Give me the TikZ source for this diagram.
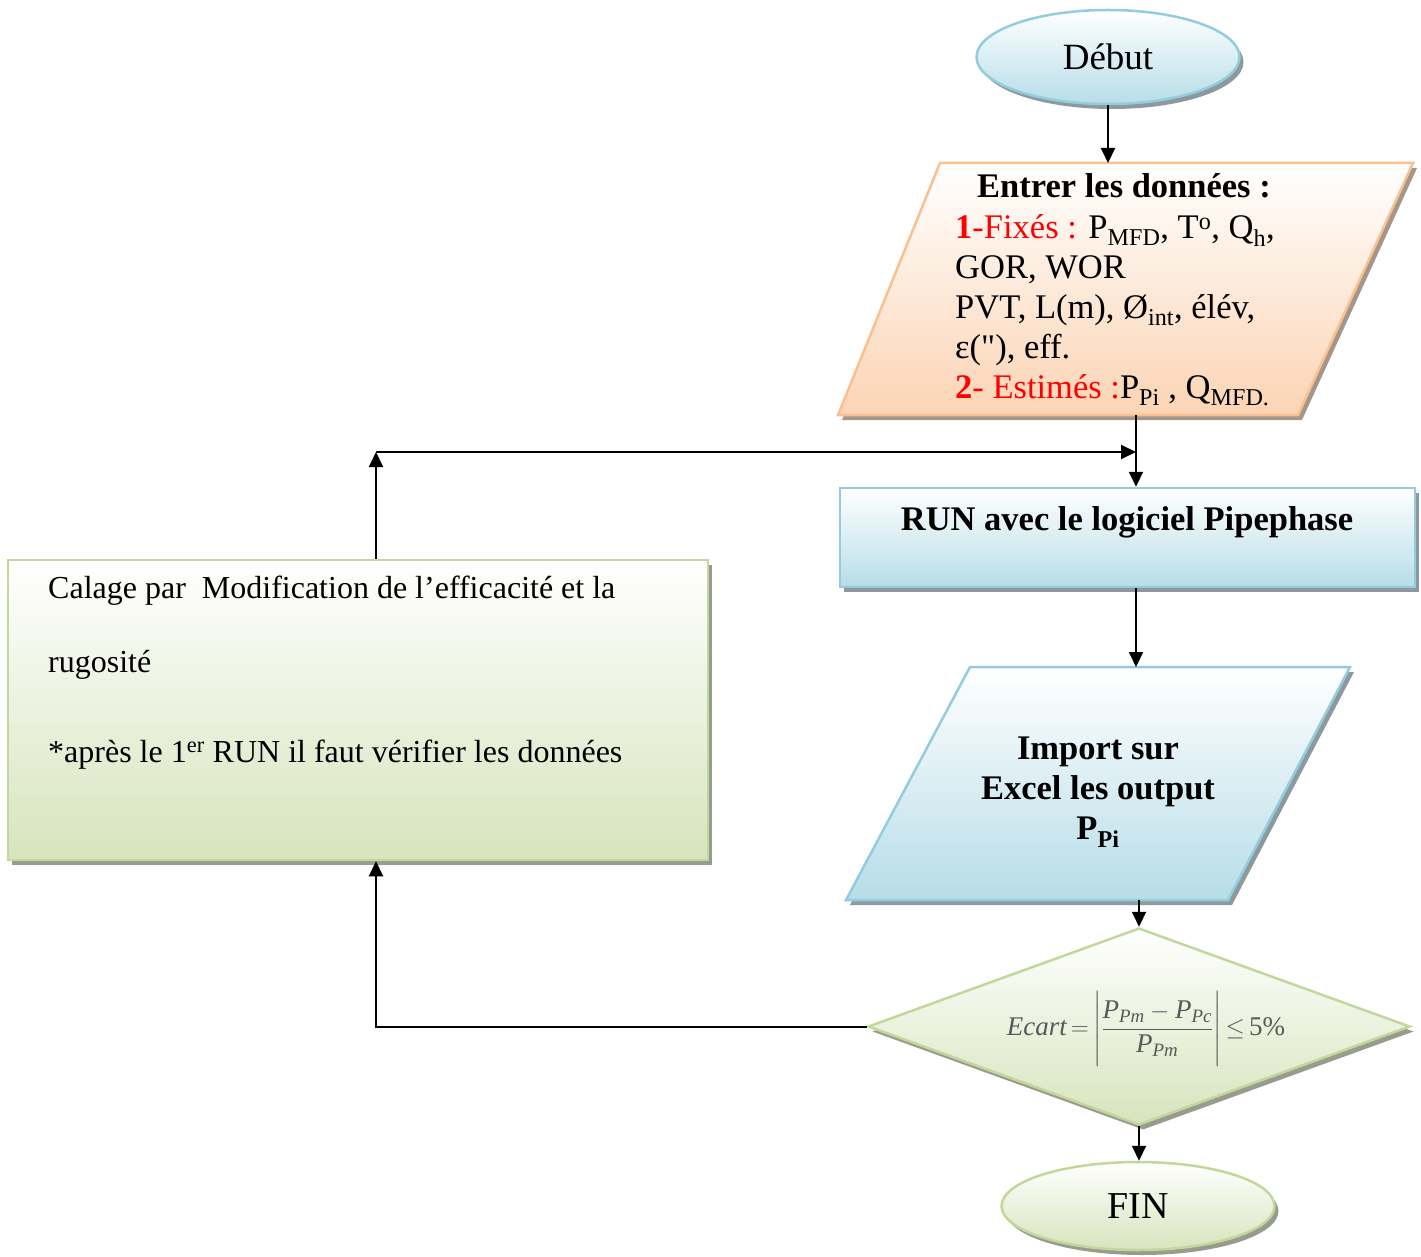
\documentclass[tikz,border=0pt]{standalone}
\usepackage{amsmath}
\usepackage{fontspec}
\setmainfont{Liberation Serif}
\newfontfamily\nomapfont[Ligatures=TeXOff]{Liberation Serif}
\usetikzlibrary{shapes.geometric,shadows,arrows.meta}
\definecolor{bluebd}{HTML}{93CDDD}
\definecolor{bluefill}{HTML}{B7DDE8}
\definecolor{orbd}{HTML}{FAC090}
\definecolor{orfill}{HTML}{FBD4B4}
\definecolor{grbd}{HTML}{C3D69B}
\definecolor{grfill}{HTML}{D7E4BD}
\definecolor{eqgray}{HTML}{595959}
\newcommand\fsz[2]{\fontsize{#1}{#2}\selectfont}
\tikzset{
  bluesh/.style={draw=bluebd, line width=2.5pt, top color=white, bottom color=bluefill,
    drop shadow={shadow xshift=4pt, shadow yshift=-5pt, fill=bluefill!50!black, opacity=0.7}},
  orsh/.style={draw=orbd, line width=2.5pt, top color=white, bottom color=orfill,
    drop shadow={shadow xshift=4pt, shadow yshift=-5pt, fill=orfill!50!black, opacity=0.7}},
  grsh/.style={draw=grbd, line width=2.5pt, top color=white, bottom color=grfill,
    drop shadow={shadow xshift=4pt, shadow yshift=-5pt, fill=grfill!50!black, opacity=0.7}},
  arr/.style={draw=black, line width=2pt, -{Triangle[length=15pt,width=14pt]}},
  txt/.style={inner sep=0pt, text=black},
  frame/.style={inner sep=0pt, outer sep=0pt},
}
\begin{document}
\begin{tikzpicture}[x=1pt,y=-1pt]
\useasboundingbox (0,0) rectangle (1421,1257);
% shapes
\node[ellipse, bluesh, minimum width=263, minimum height=94, inner sep=0, font=\fsz{37}{42}] (debut) at (1108,57) {Début};
\path[orsh] (838,415) -- (940,163) -- (1413,163) -- (1298,415) -- cycle;
\node[frame, minimum width=575, minimum height=252] (data) at (1125.5,289) {};
\node[rectangle, bluesh, minimum width=575, minimum height=99, inner sep=0] (run) at (1127.5,537.5) {};
\path[bluesh] (846,900) -- (970,667) -- (1350,667) -- (1228,900) -- cycle;
\node[frame, minimum width=504, minimum height=233] (import) at (1098,783.5) {};
\node[diamond, grsh, minimum width=542, minimum height=197, inner sep=0] (diamond) at (1139,1026.5) {};
\node[ellipse, grsh, minimum width=273, minimum height=88, inner sep=0, font=\fsz{38}{42}] (fin) at (1138,1206) {FIN};
\node[rectangle, grsh, minimum width=700, minimum height=300, inner sep=0] (calage) at (358,710) {};
% texts
\node[txt, font=\bfseries\fsz{34.5}{40}, anchor=base] (datatitle) at (1124,198) {Entrer les données :};
\node[txt, font=\fsz{34.5}{40}, anchor=north west, align=left] (databody) at (955,214)
  {{\color{red}\textbf{1}-Fixés :} P\textsubscript{MFD}, T\textsuperscript{o}, Q\textsubscript{h},\\
   GOR, WOR\\
   PVT, L(m), Ø\textsubscript{int}, élév,\\
   ε({\nomapfont "}), eff.\\
   {\color{red}\textbf{2}- Estimés :}P\textsubscript{Pi} , Q\textsubscript{MFD.}};
\node[txt, font=\bfseries\fsz{34.5}{40}] (runtxt) at (1127,522) {RUN avec le logiciel Pipephase};
\node[txt, font=\bfseries\fsz{34.5}{40}, align=center] (importtxt) at (1098,792)
  {Import sur\\Excel les output\\P\textsubscript{Pi}};
\node[txt, text=eqgray, font=\fsz{27}{30}] (eq) at (1146,1029)
  {$\thickmuskip=3mu \displaystyle \textit{Ecart} = \Biggl|\frac{\textit{P}_{\textit{Pm}} - \textit{P}_{\textit{Pc}}}{\textit{P}_{\textit{Pm}}}\Biggr| \leq \text{5\%}$};
\node[txt, font=\fsz{32}{36}, anchor=base west] (cal1) at (48,598) {Calage par \ Modification de l’efficacité et la};
\node[txt, font=\fsz{32}{36}, anchor=base west] (cal2) at (48,672) {rugosité};
\node[txt, font=\fsz{32}{36}, anchor=base west] (cal3) at (48,762) {*après le 1\textsuperscript{er} RUN il faut vérifier les données};
% connectors
\coordinate (j) at (1136,452);
\coordinate (k) at (376,452);
\draw[arr] (debut.south) -- (debut.south |- data.north);
\draw[arr] (data.south -| j) -- (run.north -| j);
\draw[arr] (run.south -| j) -- (import.north -| j);
\draw[arr] (import.south -| diamond.north) -- (diamond.north);
\draw[arr] (diamond.south) -- (diamond.south |- fin.north);
\draw[arr] (calage.north -| k) -- (k);
\draw[arr] (k) -- (j);
\draw[arr] (diamond.west) -| (calage.south -| k);
\end{tikzpicture}
\end{document}
